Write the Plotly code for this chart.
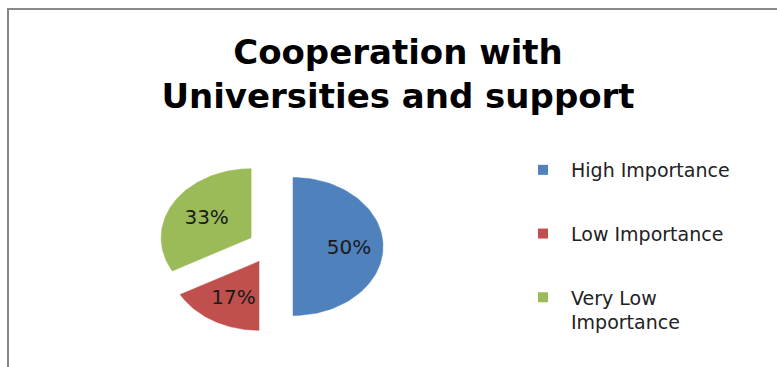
import math
import plotly.graph_objects as go

# ---- data ----
categories = ["High Importance", "Low Importance", "Very Low Importance"]
legend_labels = ["High Importance", "Low Importance", "Very Low<br>Importance"]
values = [50, 17, 33]
colors = ["#4F81BD", "#C0504D", "#9BBB59"]
title_text = "Cooperation with<br>Universities and support"

# ---- layout parameters (pixel space of the figure) ----
W, H = 777, 367
CX, CY = 270.5, 246.5     # pie centre
RX, RY = 90.0, 69.0       # elliptical radii (chart is stretched horizontally)
PULL = 0.25               # explode fraction
LABEL_R = 0.6             # label distance (fraction of radius) from slice tip

fig = go.Figure()

total = sum(values)
start = 0.0
for cat, val, col in zip(categories, values, colors):
    frac = val / total
    a0 = 2 * math.pi * start
    a1 = 2 * math.pi * (start + frac)
    am = (a0 + a1) / 2
    vx = CX + PULL * RX * math.sin(am)
    vy = CY - PULL * RY * math.cos(am)
    n = 80
    xs, ys = [vx], [vy]
    for k in range(n + 1):
        a = a0 + (a1 - a0) * k / n
        xs.append(vx + RX * math.sin(a))
        ys.append(vy - RY * math.cos(a))
    xs.append(vx)
    ys.append(vy)
    fig.add_trace(go.Scatter(
        x=xs, y=ys, mode="lines", fill="toself", fillcolor=col,
        line=dict(color=col, width=0.5), showlegend=False,
        hoverinfo="text", text=f"{cat}: {round(frac*100)}%",
    ))
    fig.add_trace(go.Scatter(
        x=[vx + LABEL_R * RX * math.sin(am) + 2],
        y=[vy - LABEL_R * RY * math.cos(am) + 2],
        mode="text", text=[f"{round(frac*100)}%"],
        textfont=dict(family="DejaVu Sans", size=20, color="#1a1a1a"),
        showlegend=False, hoverinfo="skip",
    ))
    start += frac

# legend entries
for lab, col in zip(legend_labels, colors):
    fig.add_trace(go.Scatter(
        x=[None], y=[None], mode="markers",
        marker=dict(symbol="square", size=10, color=col),
        name=lab, legendgroup=lab, showlegend=True,
    ))

fig.update_layout(
    width=W, height=H,
    margin=dict(l=0, r=0, t=0, b=0),
    paper_bgcolor="white", plot_bgcolor="white",
    xaxis=dict(range=[0, W], visible=False, fixedrange=True),
    yaxis=dict(range=[H, 0], visible=False, fixedrange=True),
    title=dict(
        text=title_text, x=398 / W, xanchor="center",
        y=1 - 64 / H, yanchor="top",
        font=dict(family="DejaVu Sans", size=34, color="#000000", weight="bold"),
    ),
    legend=dict(
        x=515 / W, xanchor="left", y=1 - 151 / H, yanchor="top",
        font=dict(family="DejaVu Sans", size=19, color="#222222"),
        tracegroupgap=36, valign="top", bgcolor="rgba(0,0,0,0)",
        itemwidth=46,
    ),
    shapes=[
        dict(type="line", xref="paper", yref="paper",
             x0=7 / W, x1=1, y0=1 - 9 / H, y1=1 - 9 / H,
             line=dict(color="#888888", width=2)),
        dict(type="line", xref="paper", yref="paper",
             x0=8 / W, x1=8 / W, y0=0, y1=1 - 8 / H,
             line=dict(color="#888888", width=2)),
    ],
)

fig.write_html("out.html")
